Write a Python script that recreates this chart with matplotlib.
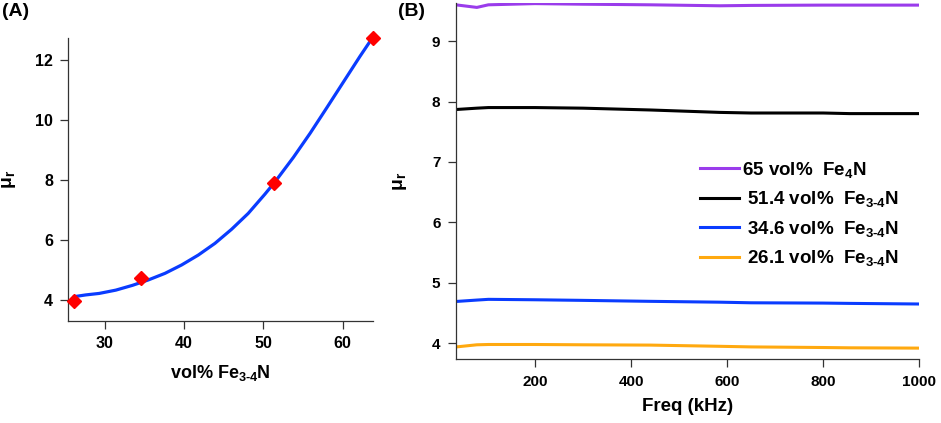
import matplotlib
matplotlib.use("Agg")
from matplotlib import pyplot as plt

plt.rcParams['font.family'] = ['Liberation Sans', 'DejaVu Sans']
plt.rcParams['font.weight'] = 'bold'
plt.rcParams['axes.labelweight'] = 'bold'
plt.rcParams['mathtext.fontset'] = 'custom'
plt.rcParams['mathtext.rm'] = 'Liberation Sans:bold'
plt.rcParams['mathtext.it'] = 'Liberation Sans:bold'
plt.rcParams['mathtext.bf'] = 'Liberation Sans:bold'
plt.rcParams['mathtext.default'] = 'regular'

vol_pct = [26.1, 34.6, 51.4, 63.8]
mu_pts = [3.97, 4.73, 7.89, 12.75]
fit_x = [26.1, 27.6, 29.3, 31.4, 33.5, 35.5, 37.6, 39.7, 41.8, 43.9, 46.0, 48.1,
         50.2, 51.5, 53.8, 55.9, 58.0, 60.1, 62.2, 63.7]
fit_y = [4.11, 4.17, 4.22, 4.33, 4.49, 4.67, 4.89, 5.17, 5.50, 5.89, 6.36, 6.89,
         7.53, 7.95, 8.76, 9.56, 10.41, 11.27, 12.13, 12.72]

# panel B: permeability vs frequency
freq = [40, 79, 103, 200, 300, 440, 585, 650, 800, 855, 1000]
mu_65 = [9.595, 9.557, 9.60, 9.62, 9.61, 9.60, 9.584, 9.59, 9.595, 9.595, 9.595]
mu_514 = [7.87, 7.89, 7.90, 7.90, 7.89, 7.86, 7.82, 7.81, 7.81, 7.80, 7.80]
mu_346 = [4.694, 4.715, 4.727, 4.72, 4.71, 4.694, 4.68, 4.67, 4.665, 4.66, 4.65]
mu_261 = [3.943, 3.975, 3.98, 3.98, 3.975, 3.97, 3.95, 3.94, 3.93, 3.925, 3.92]
labels = ['65 vol%  Fe$_4$N', ' 51.4 vol%  Fe$_{3\u20104}$N',
          ' 34.6 vol%  Fe$_{3\u20104}$N', ' 26.1 vol%  Fe$_{3\u20104}$N']
colors = ['#9A3CEB', '#000000', '#0A3CFF', '#FFA90F']

W, H = 941, 423
fig = plt.figure(figsize=(W / 100, H / 100), dpi=100)

def px_axes(l, t, r, b):
    return fig.add_axes([l / W, 1 - b / H, (r - l) / W, (b - t) / H])

def style(ax, size):
    for s in ['top', 'right']:
        ax.spines[s].set_visible(False)
    for s in ['left', 'bottom']:
        ax.spines[s].set_color('#333333')
        ax.spines[s].set_linewidth(0.9)
    ax.tick_params(direction='out', length=6, width=0.9, color='#333333', labelsize=size, pad=5)

axA = px_axes(68.3, 38, 372.7, 320.7)
axA.plot(fit_x, fit_y, color='#0A3CFF', lw=2.3, zorder=2, solid_capstyle='round')
axA.plot(vol_pct, mu_pts, 'D', color='#FF0000', ms=7, zorder=3, clip_on=False)
axA.set_xlim(25.4, 63.8)
axA.set_ylim(3.31, 12.74)
axA.set_xticks([30, 40, 50, 60])
axA.set_yticks([4, 6, 8, 10, 12])
style(axA, 11.5)
axA.set_xlabel('vol% Fe$_{3\u20104}$N', fontsize=13, labelpad=9)
axA.set_ylabel('μ$_r$', fontsize=14)
axA.yaxis.set_label_coords(-0.165, 0.5)

axB = px_axes(455.7, 3, 919.3, 359.3)
for y, c, lab in zip([mu_65, mu_514, mu_346, mu_261], colors, labels):
    axB.plot(freq, y, color=c, lw=2.2, label=lab)
axB.set_xlim(35, 1000)
axB.set_ylim(3.735, 9.63)
axB.set_xticks([200, 400, 600, 800, 1000])
axB.set_yticks([4, 5, 6, 7, 8, 9])
style(axB, 11)
axB.set_xlabel('Freq (kHz)', fontsize=13.5, labelpad=7)
axB.set_ylabel('μ$_r$', fontsize=14)
axB.yaxis.set_label_coords(-0.1, 0.5)
axB.legend(frameon=False, prop={'size': 13.5, 'weight': 'bold'}, loc='upper left',
           bbox_to_anchor=(700 / W, 1 - 160 / H), bbox_transform=fig.transFigure,
           borderpad=0, borderaxespad=0, handlelength=2.1, handletextpad=0.15,
           labelspacing=0.5)

fig.text(2 / W, 1 - 3 / H, '(A)', fontsize=14, va='top', ha='left')
fig.text(398 / W, 1 - 3 / H, '(B)', fontsize=14, va='top', ha='left')

fig.savefig('out.png', dpi=100)
